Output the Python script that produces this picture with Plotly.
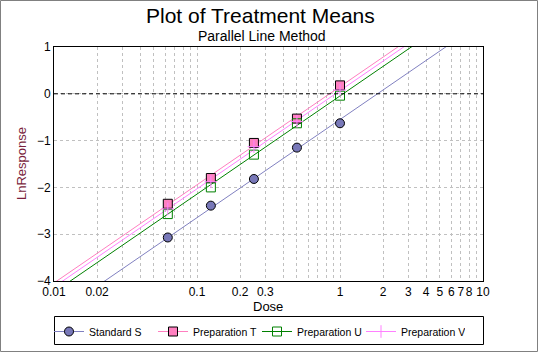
import numpy as np
import plotly.graph_objects as go

doses = [0.0625, 0.125, 0.25, 0.5, 1.0]
standard_s = [-3.07, -2.39, -1.82, -1.15, -0.63]
prep_t = [-2.35, -1.80, -1.05, -0.53, 0.18]
prep_u = [-2.57, -2.00, -1.30, -0.63, -0.04]
prep_v = [-2.46, -1.88, -1.13, -0.59, 0.08]

series_names = ["Standard S", "Preparation T", "Preparation U", "Preparation V"]
series_vals = [standard_s, prep_t, prep_u, prep_v]

x_tick_vals = [0.01, 0.02, 0.03, 0.04, 0.05, 0.06, 0.07, 0.08, 0.09,
               0.1, 0.2, 0.3, 0.4, 0.5, 0.6, 0.7, 0.8, 0.9,
               1, 2, 3, 4, 5, 6, 7, 8, 9, 10]
x_tick_text = ["0.01", "0.02", "", "", "", "", "", "", "",
               "0.1", "0.2", "0.3", "", "", "", "", "", "",
               "1", "2", "3", "4", "5", "6", "7", "8", "", "10"]
y_tick_vals = [-4, -3, -2, -1, 0, 1]

line_colors = ["#8080c0", "#ff7fc0", "#008000", "#ff80ff"]
markers = [
    dict(symbol="circle", size=9, color="#7878b8", line=dict(color="#000000", width=1)),
    dict(symbol="square", size=9, color="#ff80c0", line=dict(color="#000000", width=1)),
    dict(symbol="square-open", size=9, color="#008000", line=dict(color="#008000", width=1)),
    dict(symbol="cross-thin", size=9, color="#ff80ff", line=dict(color="#ff80ff", width=1)),
]

# Parallel-line fit: common slope, separate intercepts
lx = np.log10(np.array(doses))
xm = lx.mean()
sxx = ((lx - xm) ** 2).sum()
sxy = sum(((lx - xm) * (np.array(v) - np.mean(v))).sum() for v in series_vals)
slope = sxy / (sxx * len(series_vals))
intercepts = [np.mean(v) - slope * xm for v in series_vals]

fig = go.Figure()
line_x = np.array([0.005, 20.0])
for name, vals, col, mk, b0 in zip(series_names, series_vals, line_colors, markers, intercepts):
    fig.add_trace(go.Scatter(x=line_x, y=b0 + slope * np.log10(line_x), mode="lines",
                             line=dict(color=col, width=1), showlegend=False, hoverinfo="skip"))
for name, vals, col, mk in zip(series_names, series_vals, line_colors, markers):
    fig.add_trace(go.Scatter(x=doses, y=vals, mode="markers", marker=mk, showlegend=False,
                             name=name))
for name, col, mk in zip(series_names, line_colors, markers):
    fig.add_trace(go.Scatter(x=[None], y=[None], mode="lines+markers", name=name,
                             line=dict(color=col, width=1), marker=mk))

L, R, T, B = 54, 55, 47, 71
W, H = 538, 352
pw, ph = W - L - R, H - T - B

def px_x(p):
    return (p - L) / pw

def px_y(p):
    return (H - B - p) / ph

fig.update_layout(
    width=W, height=H,
    margin=dict(l=L, r=R, t=T, b=B, autoexpand=False),
    paper_bgcolor="white", plot_bgcolor="white",
    font=dict(family="Liberation Sans, Arial, sans-serif", size=12, color="#000000"),
    showlegend=True,
    legend=dict(orientation="h", x=px_x(49), y=px_y(317), xanchor="left", yanchor="top",
                borderwidth=0, entrywidth=59, entrywidthmode="pixels",
                font=dict(size=10.5, color="#000000"), bgcolor="rgba(0,0,0,0)", tracegroupgap=0),
    xaxis=dict(type="log", range=[-2, 1], tickmode="array", tickvals=x_tick_vals,
               ticktext=x_tick_text, tickangle=0, showgrid=True, gridcolor="#c0c0c0",
               griddash="3px,3px", gridwidth=1, showline=True, linecolor="#000000",
               linewidth=1, mirror=True, ticks="", zeroline=False, tickfont=dict(size=12)),
    yaxis=dict(range=[-4, 1], tickmode="array", tickvals=y_tick_vals,
               showgrid=True, gridcolor="#c0c0c0", griddash="3px,3px", gridwidth=1,
               showline=True, linecolor="#000000", linewidth=1, mirror=True,
               ticks="", zeroline=False, tickfont=dict(size=12)),
    annotations=[
        dict(text="Plot of Treatment Means", xref="paper", yref="paper", x=px_x(260), y=px_y(15),
             xanchor="center", yanchor="middle", showarrow=False, font=dict(size=21)),
        dict(text="Parallel Line Method", xref="paper", yref="paper", x=px_x(262), y=px_y(36),
             xanchor="center", yanchor="middle", showarrow=False, font=dict(size=14)),
        dict(text="Dose", xref="paper", yref="paper", x=px_x(268), y=px_y(306),
             xanchor="center", yanchor="middle", showarrow=False, font=dict(size=13)),
        dict(text="LnResponse", xref="paper", yref="paper", x=px_x(21), y=px_y(164),
             xanchor="center", yanchor="middle", showarrow=False, textangle=-90,
             font=dict(size=13, color="#7a1f3d")),
    ],
    shapes=[
        dict(type="line", xref="paper", yref="y", x0=0, x1=1, y0=0, y1=0,
             line=dict(color="#000000", width=1, dash="4px,3px")),
        dict(type="rect", xref="paper", yref="paper", x0=px_x(54.5), x1=px_x(483.5),
             y0=px_y(344.5), y1=px_y(316.5), line=dict(color="#000000", width=1)),
        dict(type="rect", xref="paper", yref="paper", x0=px_x(0.5), x1=px_x(537.5),
             y0=px_y(351.5), y1=px_y(0.5), line=dict(color="#808080", width=1)),
    ],
)

fig.write_html("out.html")
